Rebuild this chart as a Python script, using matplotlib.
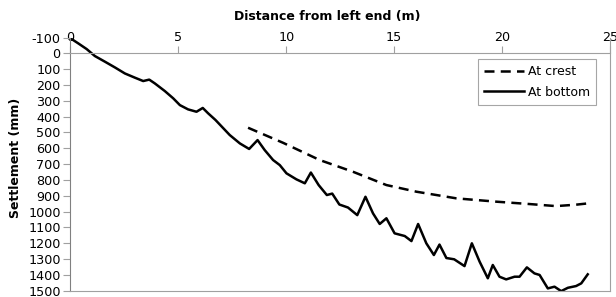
import matplotlib
matplotlib.use('Agg')
import matplotlib.pyplot as plt

# Settlement along the embankment
bottom_x = [0.0, 0.36, 0.75, 1.13, 1.6, 2.06, 2.52, 2.99, 3.37, 3.65, 3.91, 4.37, 4.76,
            5.07, 5.45, 5.84, 6.13, 6.38, 6.72, 7.38, 7.85, 8.28, 8.67, 9.0, 9.39, 9.7,
            10.01, 10.47, 10.86, 11.14, 11.5, 11.88, 12.13, 12.46, 12.86, 13.29, 13.67,
            14.02, 14.33, 14.64, 15.02, 15.49, 15.8, 16.11, 16.49, 16.84, 17.1, 17.42,
            17.78, 18.26, 18.6, 18.96, 19.34, 19.57, 19.88, 20.19, 20.58, 20.81, 21.15,
            21.5, 21.74, 22.12, 22.43, 22.74, 23.05, 23.43, 23.67, 23.97]
bottom_y = [-95, -63, -27, 17, 53, 89, 127, 154, 175, 166, 190, 238, 284,
            327, 354, 369, 345, 379, 421, 516, 569, 604, 548, 611, 674, 706,
            758, 796, 821, 753, 832, 895, 886, 955, 974, 1022, 906,
            1011, 1078, 1042, 1137, 1154, 1186, 1078, 1200, 1274, 1208, 1293,
            1301, 1344, 1200, 1316, 1421, 1337, 1411, 1428, 1411, 1411, 1352,
            1390, 1400, 1485, 1474, 1502, 1481, 1470, 1453, 1396]

crest_x = [8.23, 9.85, 11.55, 13.09, 14.64, 16.03, 17.88, 19.73, 21.27, 22.5, 23.43, 23.97]
crest_y = [470, 565, 674, 748, 832, 874, 916, 937, 952, 965, 956, 948]

x_ticks = [0, 5, 10, 15, 20, 25]
y_ticks = list(range(-100, 1501, 100))

plt.rcParams['font.family'] = ['DejaVu Sans']
plt.rcParams['axes.unicode_minus'] = False

fig = plt.figure(figsize=(6.16, 2.97), dpi=100)
ax = fig.add_axes([0.1144, 0.0209, 0.8758, 0.8528])

ax.plot(crest_x, crest_y, color='black', lw=1.8, dashes=(4, 2.5), label='At crest')
ax.plot(bottom_x, bottom_y, color='black', lw=1.8, label='At bottom',
        solid_joinstyle='round')

ax.set_xlim(0, 25)
ax.set_ylim(1500, -100)
ax.set_xticks(x_ticks)
ax.set_yticks(y_ticks)

# x axis crosses at 0, labels above it
ax.xaxis.tick_top()
ax.xaxis.set_label_position('top')
ax.spines['top'].set_position(('data', 0))
for s in ['top', 'right', 'bottom']:
    ax.spines[s].set_color('#a0a0a0')
ax.spines['left'].set_color('#808080')
ax.tick_params(axis='x', colors='#a0a0a0', labelcolor='black', length=5, labelsize=9.2, pad=2)
ax.tick_params(axis='y', colors='#a0a0a0', labelcolor='black', length=5, labelsize=9.2, pad=2)

fig.text(0.532, 0.945, 'Distance from left end (m)', ha='center', va='center',
         fontsize=9, fontweight='bold')
fig.text(0.025, 0.47, 'Settlement (mm)', ha='center', va='center', rotation=90,
         fontsize=9, fontweight='bold')

leg = ax.legend(loc='upper right', bbox_to_anchor=(0.9745, 0.915), frameon=True, fancybox=False,
                edgecolor='#909090', fontsize=9, handlelength=3.2, handletextpad=0.3,
                borderpad=0.5, labelspacing=0.6, borderaxespad=0)
leg.get_frame().set_linewidth(0.8)

fig.savefig('out.png', dpi=100)
